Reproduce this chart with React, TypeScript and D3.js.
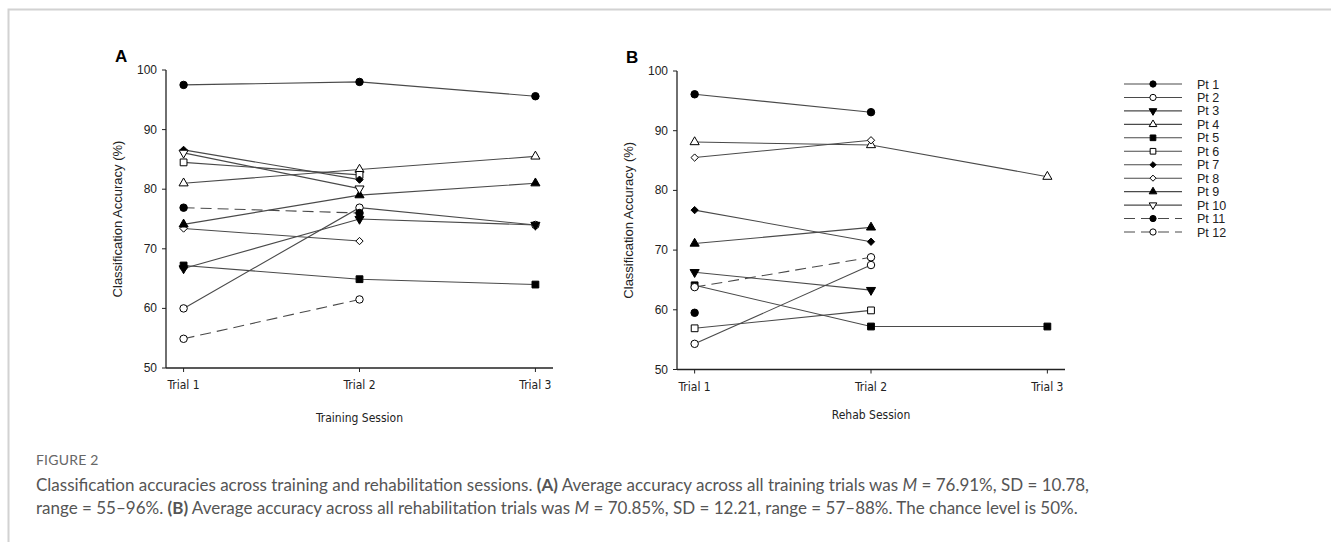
import React from 'react';
import * as d3 from 'd3';

const trials = [1, 2, 3];
const trialLabels = ['Trial 1', 'Trial 2', 'Trial 3'];
const yTicks = [50, 60, 70, 80, 90, 100];
const participants = ['Pt 1', 'Pt 2', 'Pt 3', 'Pt 4', 'Pt 5', 'Pt 6', 'Pt 7', 'Pt 8', 'Pt 9', 'Pt 10', 'Pt 11', 'Pt 12'];

// training session accuracies (%), Trial 1..3, null = no trial
const training: (number | null)[][] = [
  [97.5, 98.0, 95.6],
  [60.0, 76.9, 74.0],
  [66.7, 75.0, 74.0],
  [81.0, 83.3, 85.5],
  [67.2, 64.9, 64.0],
  [84.5, 82.4, null],
  [86.6, 81.6, null],
  [73.4, 71.3, null],
  [74.1, 79.0, 81.0],
  [86.1, 80.1, null],
  [76.9, 76.0, null],
  [54.9, 61.5, null],
];

// rehab session accuracies (%)
const rehab: (number | null)[][] = [
  [96.1, 93.1, null],
  [54.3, 67.5, null],
  [66.3, 63.3, null],
  [88.1, 87.6, 82.3],
  [64.1, 57.2, 57.2],
  [56.9, 59.9, null],
  [76.7, 71.4, null],
  [85.5, 88.4, null],
  [71.1, 73.8, null],
  [null, null, null],
  [59.5, null, null],
  [63.8, 68.8, null],
];

// marker: shape, filled, dashed line
const markerShape = ['circle', 'circle', 'tridown', 'tri', 'square', 'square', 'diamond', 'diamond', 'tri', 'tridown', 'circle', 'circle'];
const markerFilled = [true, false, true, false, true, false, true, false, true, false, true, false];
const dashed = [false, false, false, false, false, false, false, false, false, false, true, true];

const lineCol = '#4a4a4a';
const axisFont = '"Liberation Sans", Arial, sans-serif';
const narrowFont = '"Liberation Sans Narrow", "DejaVu Sans Condensed", Arial, sans-serif';

const symPath = (shape: string, k: number) => {
  if (shape === 'circle') return d3.symbol(d3.symbolCircle, 44 * k)()!;
  if (shape === 'square') return d3.symbol(d3.symbolSquare, 46 * k)()!;
  if (shape === 'diamond') return d3.symbol(d3.symbolDiamond2, 34 * k)()!;
  return d3.symbol(d3.symbolTriangle, 36 * k)()!;
};

const Marker = ({ i, x, y, k = 1 }: { i: number; x: number; y: number; k?: number }) => {
  const s = markerShape[i];
  const rot = s === 'tridown' ? ' rotate(180)' : '';
  return (
    <path
      d={symPath(s, k)}
      transform={`translate(${x},${y})${rot}`}
      fill={markerFilled[i] ? '#000' : '#fff'}
      stroke="#000"
      strokeWidth={1}
    />
  );
};

const Panel = ({ data, left, right, top, bottom, letter, title }: any) => {
  const x = d3.scaleLinear().domain([0.9, 3.1]).range([left, right]);
  const y = d3.scaleLinear().domain([50, 100]).range([bottom, top]);
  const line = d3
    .line<[number, number | null]>()
    .defined((d) => d[1] != null)
    .x((d) => x(d[0]))
    .y((d) => y(d[1] as number));

  return (
    <g>
      <text x={left - 51} y={top - 8} fontFamily={axisFont} fontWeight="bold" fontSize={17} fill="#000">{letter}</text>
      {/* axes */}
      <line x1={left} x2={left} y1={top} y2={bottom} stroke="#222" strokeWidth={1.3} />
      <line x1={left} x2={right} y1={bottom} y2={bottom} stroke="#222" strokeWidth={1.6} />
      {yTicks.map((t) => (
        <g key={t}>
          <line x1={left - 4} x2={left} y1={y(t)} y2={y(t)} stroke="#222" />
          <text x={left - 9} y={y(t) + 4} textAnchor="end" fontFamily={axisFont} fontSize={12} fill="#222">{t}</text>
        </g>
      ))}
      {trials.map((t, k) => (
        <g key={t}>
          <line x1={x(t)} x2={x(t)} y1={bottom} y2={bottom + 4} stroke="#222" />
          <text x={x(t)} y={bottom + 21} textAnchor="middle" fontFamily={narrowFont} fontSize={12} fill="#222">{trialLabels[k]}</text>
        </g>
      ))}
      <text
        transform={`translate(${left - 44},${(top + bottom) / 2}) rotate(-90)`}
        textAnchor="middle"
        fontFamily={axisFont}
        fontSize={13}
        fill="#222"
      >Classification Accuracy (%)</text>
      <text x={(left + right) / 2} y={title.y} textAnchor="middle" fontFamily={narrowFont} fontSize={12} fill="#222">{title.text}</text>
      {/* series */}
      {data.map((vals: (number | null)[], i: number) => {
        const pts = trials.map((t, k) => [t, vals[k]] as [number, number | null]);
        return (
          <g key={i}>
            <path d={line(pts) || ''} fill="none" stroke={lineCol} strokeWidth={1.1} strokeDasharray={dashed[i] ? '11,6' : undefined} />
            {pts.filter((p) => p[1] != null).map((p, k) => (
              <Marker key={k} i={i} x={x(p[0])} y={y(p[1] as number)} />
            ))}
          </g>
        );
      })}
    </g>
  );
};

const Legend = () => {
  const ly = d3.scaleLinear().domain([0, 11]).range([84, 232]);
  return (
    <g>
      {participants.map((p, i) => (
        <g key={p}>
          <line x1={1124} x2={1182} y1={ly(i)} y2={ly(i)} stroke={lineCol} strokeWidth={1.1} strokeDasharray={dashed[i] ? '11,6' : undefined} />
          <Marker i={i} x={1153} y={ly(i)} k={0.7} />
          <text x={1197} y={ly(i) + 4.5} fontFamily={axisFont} fontSize={12.5} fill="#222">{p}</text>
        </g>
      ))}
    </g>
  );
};

const capFont = 'Lato, "Open Sans", sans-serif';

export default function App() {
  return (
    <svg width={1331} height={542} style={{ position: 'absolute', left: 0, top: 0, background: '#fff' }}>
      <rect x={8.5} y={9.5} width={1400} height={600} fill="#fff" stroke="#d2d2d2" strokeWidth={2} />
      <Panel data={training} left={166} right={553} top={70} bottom={368} letter="A" title={{ text: 'Training Session', y: 422 }} />
      <Panel data={rehab} left={677} right={1065} top={71} bottom={369.5} letter="B" title={{ text: 'Rehab Session', y: 419 }} />
      <Legend />
      <text x={36} y={465} fontFamily={capFont} fontSize={14} fill="#666" letterSpacing={0.2}>FIGURE 2</text>
      <text x={36} y={491} fontFamily={capFont} fontSize={17} fill="#555">
        Classification accuracies across training and rehabilitation sessions. <tspan fontWeight="bold">(A)</tspan> Average accuracy across all training trials was <tspan fontStyle="italic">M</tspan> = 76.91%, SD = 10.78,
      </text>
      <text x={36} y={514} fontFamily={capFont} fontSize={17} fill="#555">
        range = 55–96%. <tspan fontWeight="bold">(B)</tspan> Average accuracy across all rehabilitation trials was <tspan fontStyle="italic">M</tspan> = 70.85%, SD = 12.21, range = 57–88%. The chance level is 50%.
      </text>
    </svg>
  );
}
